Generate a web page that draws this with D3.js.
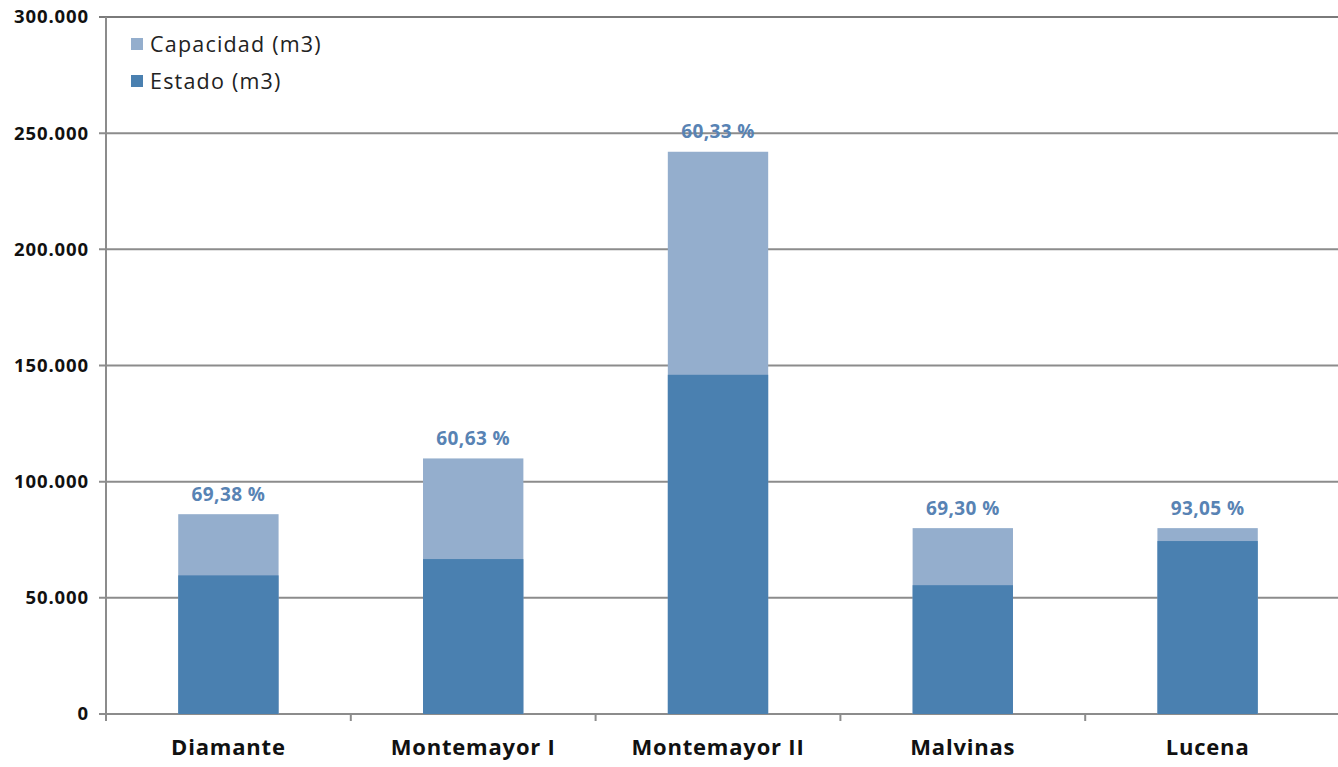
<!DOCTYPE html>
<html>
<head>
<meta charset="utf-8">
<script src="https://cdn.jsdelivr.net/npm/d3@7"></script>
<style>
  body { margin: 0; background: #fff; }
  svg { display: block; }
  svg text { font-family: "Open Sans", "Noto Sans", sans-serif; }
  .tick text { font-weight: 700; }
</style>
</head>
<body>
<div id="chart"></div>
<script>
const categories = ["Diamante", "Montemayor I", "Montemayor II", "Malvinas", "Lucena"];
const capacidad = [86000, 110000, 242000, 80000, 80000];
const estado = [59670, 66690, 146000, 55440, 74440];
const porcentajes = ["69,38 %", "60,63 %", "60,33 %", "69,30 %", "93,05 %"];
const yTicks = [0, 50000, 100000, 150000, 200000, 250000, 300000];
const yTickLabels = ["0", "50.000", "100.000", "150.000", "200.000", "250.000", "300.000"];

const width = 1338, height = 767;
const margin = { top: 17, right: 0, bottom: 53, left: 106 };

const svg = d3.select("#chart").append("svg")
  .attr("width", width)
  .attr("height", height);

// the bars sit in 5 equal slots that end a little before the right edge
const x = d3.scaleBand()
  .domain(categories)
  .range([margin.left, margin.left + 5 * 244.8])
  .paddingInner(0.59)
  .paddingOuter(0.295);

const y = d3.scaleLinear()
  .domain([0, 300000])
  .range([height - margin.bottom, margin.top]);

// gridlines
svg.append("g")
  .selectAll("line")
  .data(yTicks)
  .join("line")
  .attr("x1", margin.left - 7)
  .attr("x2", width)
  .attr("y1", d => y(d))
  .attr("y2", d => y(d))
  .attr("stroke", d => d === 300000 ? "#7a7a7a" : "#8c8c8c")
  .attr("stroke-width", 2);

// y axis
const yAxis = svg.append("g")
  .attr("transform", `translate(${margin.left},0)`)
  .call(d3.axisLeft(y).tickValues(yTicks).tickFormat((d, i) => yTickLabels[i]).tickSize(0).tickPadding(17));
yAxis.select(".domain").remove();
yAxis.selectAll("text")
  .attr("font-size", 18.5)
  .attr("letter-spacing", 0.9)
  .attr("fill", "#111");

svg.append("line")
  .attr("x1", margin.left).attr("x2", margin.left)
  .attr("y1", margin.top).attr("y2", y(0) + 7)
  .attr("stroke", "#8c8c8c").attr("stroke-width", 2);

// category boundary ticks
const step = x.step();
svg.append("g")
  .selectAll("line")
  .data(categories.slice(1))
  .join("line")
  .attr("x1", d => x(d) - x.paddingInner() * step / 2)
  .attr("x2", d => x(d) - x.paddingInner() * step / 2)
  .attr("y1", y(0))
  .attr("y2", y(0) + 7)
  .attr("stroke", "#8c8c8c").attr("stroke-width", 2);

// x labels
const xAxis = svg.append("g")
  .attr("transform", `translate(0,${y(0)})`)
  .call(d3.axisBottom(x).tickSize(0).tickPadding(25));
xAxis.select(".domain").remove();
xAxis.selectAll("text")
  .attr("font-size", 22)
  .attr("letter-spacing", 0.8)
  .attr("fill", "#111");

// bars
svg.append("g")
  .selectAll("rect")
  .data(categories)
  .join("rect")
  .attr("x", d => x(d))
  .attr("width", x.bandwidth())
  .attr("y", (d, i) => y(capacidad[i]))
  .attr("height", (d, i) => y(0) - y(capacidad[i]))
  .attr("fill", "#94aecd");

svg.append("g")
  .selectAll("rect")
  .data(categories)
  .join("rect")
  .attr("x", d => x(d))
  .attr("width", x.bandwidth())
  .attr("y", (d, i) => y(estado[i]))
  .attr("height", (d, i) => y(0) - y(estado[i]))
  .attr("fill", "#4a80b0");

// percentage labels
svg.append("g")
  .selectAll("text")
  .data(categories)
  .join("text")
  .attr("x", d => x(d) + x.bandwidth() / 2)
  .attr("y", (d, i) => y(capacidad[i]) - 20)
  .attr("dy", "0.35em")
  .attr("text-anchor", "middle")
  .attr("font-size", 19)
  .attr("font-weight", 700)
  .attr("letter-spacing", 0.4)
  .attr("fill", "#5883b4")
  .text((d, i) => porcentajes[i]);

// legend
const legend = [["Capacidad (m3)", "#94aecd"], ["Estado (m3)", "#4a80b0"]];
const lg = svg.append("g").attr("transform", "translate(130,44)");
lg.selectAll("rect")
  .data(legend)
  .join("rect")
  .attr("x", 1)
  .attr("y", (d, i) => i * 37 - 6)
  .attr("width", 12).attr("height", 12)
  .attr("fill", d => d[1]);
lg.selectAll("text")
  .data(legend)
  .join("text")
  .attr("x", 20)
  .attr("y", (d, i) => i * 37)
  .attr("dy", "0.36em")
  .attr("font-size", 21.5)
  .attr("letter-spacing", 1.2)
  .attr("fill", "#222")
  .text(d => d[0]);
</script>
</body>
</html>
